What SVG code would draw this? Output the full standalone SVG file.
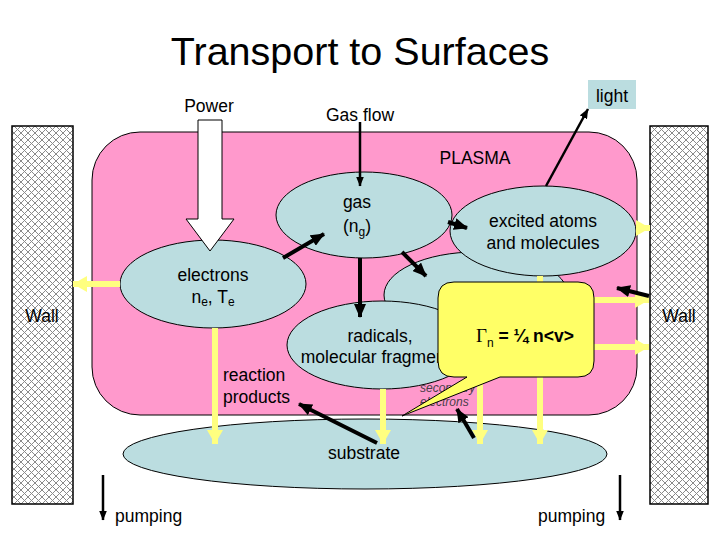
<svg xmlns="http://www.w3.org/2000/svg" width="720" height="540" viewBox="0 0 720 540">
<style>
text{font-family:"Liberation Sans",Arial,sans-serif;font-size:17.5px;fill:#000}
.ell{fill:#bbdde0;stroke:#000;stroke-width:1}
.wall{fill:url(#hatch);stroke:#000;stroke-width:1.5}
.yel{stroke:#ffff80;stroke-width:6;fill:none}
.blk{stroke:#000;stroke-width:4;fill:none;marker-end:url(#bh)}
.thin{stroke:#000;stroke-width:2.5;fill:none;marker-end:url(#th)}
.sec{font-size:12px;font-style:italic;fill:#4a3f4a}
</style>
<defs>
<pattern id="hatch" patternUnits="userSpaceOnUse" width="7" height="7">
<rect width="7" height="7" fill="#fff"/>
<path d="M0,0L7,7M0,7L7,0" stroke="#8a8a8a" stroke-width="1"/>
</pattern>
<marker id="yh" markerUnits="userSpaceOnUse" viewBox="0 0 14 16" refX="14" refY="8" markerWidth="14" markerHeight="16" orient="auto">
<path d="M0,0L14,8L0,16z" fill="#ffff80"/>
</marker>
<marker id="bh" markerUnits="userSpaceOnUse" viewBox="0 0 14 12" refX="13" refY="6" markerWidth="14" markerHeight="12" orient="auto">
<path d="M0,0L14,6L0,12z" fill="#000"/>
</marker>
<marker id="th" markerUnits="userSpaceOnUse" viewBox="0 0 10 8" refX="9.5" refY="4" markerWidth="10" markerHeight="8" orient="auto">
<path d="M0,0L10,4L0,8z" fill="#000"/>
</marker>
</defs>
<rect width="720" height="540" fill="#fff"/>
<text x="360" y="65" text-anchor="middle" style="font-size:39.5px">Transport to Surfaces</text>

<g id="wall-left"><rect class="wall" x="12" y="126" width="61" height="378"/><text x="42" y="322" text-anchor="middle">Wall</text></g>
<g id="wall-right"><rect class="wall" x="650" y="126" width="58" height="378"/><text x="679" y="322" text-anchor="middle">Wall</text></g>

<g id="plasma"><rect x="92" y="132" width="545" height="283" rx="48" ry="48" fill="#ff99cc" stroke="#000" stroke-width="1"/><text x="475" y="164" text-anchor="middle">PLASMA</text></g>

<g id="substrate"><ellipse class="ell" cx="365" cy="454" rx="242" ry="35"/><text x="364" y="459" text-anchor="middle">substrate</text></g>

<g id="middle"><ellipse class="ell" cx="476" cy="295" rx="92" ry="43"/></g>
<g id="excited"><ellipse class="ell" cx="543" cy="231" rx="93" ry="45"/><text x="543" y="227" text-anchor="middle">excited atoms</text><text x="543" y="249" text-anchor="middle">and molecules</text></g>
<g id="radicals"><ellipse class="ell" cx="382" cy="345" rx="95" ry="44"/><text x="380" y="342" text-anchor="middle">radicals,</text><text x="380" y="363" text-anchor="middle">molecular fragments</text></g>
<g id="gas"><ellipse class="ell" cx="364" cy="215" rx="88" ry="43"/><text x="357" y="208" text-anchor="middle">gas</text><text x="357" y="232" text-anchor="middle">(n<tspan font-size="12" dy="4">g</tspan><tspan dy="-4">)</tspan></text></g>
<g id="electrons"><ellipse class="ell" cx="213" cy="284" rx="93" ry="44"/><text x="213" y="281" text-anchor="middle">electrons</text><text x="213" y="303" text-anchor="middle">n<tspan font-size="12" dy="3">e</tspan><tspan dy="-3">, T</tspan><tspan font-size="12" dy="3">e</tspan></text></g>

<g id="power"><text x="209" y="112" text-anchor="middle">Power</text><path d="M198,120H222V219H234L210,251L186,219H198Z" fill="#fff" stroke="#000" stroke-width="1"/></g>
<g id="gasflow"><text x="326" y="121">Gas flow</text></g>
<g id="light"><rect x="588" y="80" width="48" height="29" fill="#bbdde0"/><text x="612" y="102" text-anchor="middle">light</text></g>
<g id="reaction"><text x="223" y="381">reaction</text><text x="223" y="403">products</text></g>
<g id="secondary"><text class="sec" x="420" y="392">secondary</text><text class="sec" x="420" y="406">electrons</text></g>
<g id="pumping"><text x="115" y="522">pumping</text><text x="538" y="522">pumping</text></g>

<g id="connectors">
<path class="yel" d="M120,284H73" marker-end="url(#yh)"/>
<path class="yel" d="M215,328V444" marker-end="url(#yh)"/>
<path class="yel" d="M383,389V444" marker-end="url(#yh)"/>
<path class="yel" d="M480,338V444" marker-end="url(#yh)"/>
<path class="yel" d="M540,276V444" marker-end="url(#yh)"/>
<path class="yel" d="M636,228H650" marker-end="url(#yh)"/>
<path class="yel" d="M594,300H649" marker-end="url(#yh)"/>
<path class="yel" d="M594,347H649" marker-end="url(#yh)"/>
<path class="blk" d="M283,258L324,234"/>
<path class="blk" d="M448,222L467,228"/>
<path class="blk" d="M402,252L426,276"/>
<path class="blk" d="M360,258V317"/>
<path class="blk" d="M649,296L617,288"/>
<path class="blk" d="M377,443L299,404"/>
<path class="blk" d="M474,438L457,409"/>
<path class="thin" d="M360,122V186"/>
<path class="thin" d="M546,186L588,109"/>
<path class="thin" d="M103,475V520"/>
<path class="thin" d="M620,475V520"/>
</g>

<g id="callout">
<path d="M454,282H578Q594,282 594,298V361Q594,377 578,377H500L402,416L467,377H454Q438,377 438,361V298Q438,282 454,282Z" fill="#ffff66" stroke="#000" stroke-width="1"/>
<text x="476" y="342" font-weight="bold"><tspan font-family="Liberation Serif" font-weight="normal" font-size="19">Γ</tspan><tspan font-size="12" font-weight="normal" dy="5">n</tspan><tspan dy="-5"> = ¼ n&lt;v&gt;</tspan></text>
</g>
</svg>
